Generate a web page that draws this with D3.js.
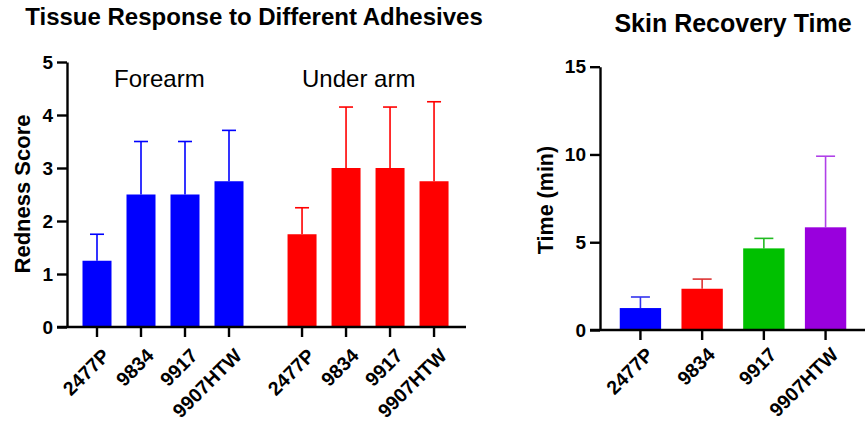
<!DOCTYPE html>
<html>
<head>
<meta charset="utf-8">
<script src="https://cdn.jsdelivr.net/npm/d3@7"></script>
<style>
  body { margin: 0; background: #fff; }
  svg { font-family: "Liberation Sans", Arial, sans-serif; }
</style>
</head>
<body>
<svg id="chart" width="865" height="423"></svg>
<script>
// data
var adhesives = ["2477P", "9834", "9917", "9907HTW"];
var sites = ["Forearm", "Under arm"];
var forearmMean = [1.25, 2.5, 2.5, 2.75];
var forearmErr = [0.5, 1.0, 1.0, 0.96];
var underarmMean = [1.75, 3.0, 3.0, 2.75];
var underarmErr = [0.5, 1.15, 1.15, 1.5];
var siteColors = ["#0000ff", "#ff0000"];
var rednessTicks = [0, 1, 2, 3, 4, 5];

var recoveryMean = [1.25, 2.35, 4.65, 5.85];
var recoveryErr = [0.63, 0.55, 0.57, 4.05];
var recoveryColors = ["#0000ff", "#ff0000", "#00c000", "#9900dd"];
var recoveryErrColors = ["#3333ee", "#dd3333", "#22bb22", "#b040e8"];
var timeTicks = [0, 5, 10, 15];

var svg = d3.select("#chart");

// draws a vertical error bar above the bar
function errorBar(g, cx, yTop, yBase, capW, color) {
    g.append("line").attr("x1", cx).attr("x2", cx).attr("y1", yBase).attr("y2", yTop)
        .attr("stroke", color).attr("stroke-width", 1.6);
    g.append("line").attr("x1", cx - capW / 2).attr("x2", cx + capW / 2).attr("y1", yTop).attr("y2", yTop)
        .attr("stroke", color).attr("stroke-width", 1.6);
}

function styleAxis(ax) {
    ax.select(".domain").attr("stroke", "#000").attr("stroke-width", 2.4);
    ax.selectAll(".tick line").attr("stroke", "#000").attr("stroke-width", 2.4);
    ax.selectAll("text").attr("fill", "#000").style("font-weight", "bold").style("font-size", "19px");
}

// x axis line, ticks and rotated labels
function xTicks(g, positions, labels, x1, x2, yOff) {
    g.append("line").attr("x1", x1).attr("x2", x2).attr("stroke", "#000").attr("stroke-width", 2.4);
    positions.forEach(function (px, i) {
        g.append("line").attr("x1", px).attr("x2", px).attr("y1", 0).attr("y2", 10)
            .attr("stroke", "#000").attr("stroke-width", 2.4);
        g.append("text").attr("transform", "translate(" + (px + 4) + "," + yOff + ") rotate(-45)")
            .attr("text-anchor", "end").attr("dy", "0.72em")
            .style("font-size", "19.5px").style("font-weight", "bold").text(labels[i]);
    });
}

// ---------- left chart ----------
var left = svg.append("g");
var y1 = d3.scaleLinear().domain([0, 5]).range([327, 62]);
// slot index -> x position, second group shifted by a gap
var groupGap = 1.66;
var slot = d3.scaleLinear().domain([0, 1]).range([97, 141]);
var barW1 = 29;

left.append("text").attr("x", 254).attr("y", 25).attr("text-anchor", "middle")
    .style("font-size", "24px").style("font-weight", "bold").text("Tissue Response to Different Adhesives");

var groups = [
    {mean: forearmMean, err: forearmErr, color: siteColors[0]},
    {mean: underarmMean, err: underarmErr, color: siteColors[1]}
];
var tickPos = [], tickLab = [];
groups.forEach(function (grp, gi) {
    grp.mean.forEach(function (v, i) {
        var cx = slot(i + gi * (adhesives.length + groupGap - 1));
        tickPos.push(cx);
        tickLab.push(adhesives[i]);
        errorBar(left, cx, y1(v + grp.err[i]), y1(v), 14, grp.color);
        left.append("rect").attr("x", cx - barW1 / 2).attr("width", barW1)
            .attr("y", y1(v)).attr("height", y1(0) - y1(v)).attr("fill", grp.color);
    });
});

// group labels
sites.forEach(function (s, gi) {
    var a = slot(gi * (adhesives.length + groupGap - 1));
    left.append("text").attr("x", a + (gi == 0 ? 17 : 0)).attr("y", 87)
        .style("font-size", "24px").text(s);
});

var yAx1 = left.append("g").attr("transform", "translate(67,0)")
    .call(d3.axisLeft(y1).tickValues(rednessTicks).tickFormat(d3.format("d"))
        .tickSize(10).tickPadding(4).tickSizeOuter(0));
styleAxis(yAx1);

xTicks(left.append("g").attr("transform", "translate(0," + y1(0) + ")"), tickPos, tickLab, 57, 466, 20);

left.append("text").attr("transform", "translate(30,194) rotate(-90)").attr("text-anchor", "middle")
    .style("font-size", "22px").style("font-weight", "bold").text("Redness Score");

// ---------- right chart ----------
var right = svg.append("g");
var y2 = d3.scaleLinear().domain([0, 15]).range([330, 66.7]);
var x2 = d3.scaleBand().domain(adhesives).range([610.5, 855.5]).paddingInner(0.33).paddingOuter(0.15);

right.append("text").attr("x", 733).attr("y", 32).attr("text-anchor", "middle")
    .style("font-size", "25px").style("font-weight", "bold").text("Skin Recovery Time");

adhesives.forEach(function (a, i) {
    var cx = x2(a) + x2.bandwidth() / 2;
    errorBar(right, cx, y2(recoveryMean[i] + recoveryErr[i]), y2(recoveryMean[i]), 19, recoveryErrColors[i]);
    right.append("rect").attr("x", x2(a)).attr("width", x2.bandwidth())
        .attr("y", y2(recoveryMean[i])).attr("height", y2(0) - y2(recoveryMean[i]))
        .attr("fill", recoveryColors[i]);
});

var yAx2 = right.append("g").attr("transform", "translate(600,0)")
    .call(d3.axisLeft(y2).tickValues(timeTicks).tickFormat(d3.format("d"))
        .tickSize(10).tickPadding(4).tickSizeOuter(0));
styleAxis(yAx2);

xTicks(right.append("g").attr("transform", "translate(0," + y2(0) + ")"),
    adhesives.map(function (a) { return x2(a) + x2.bandwidth() / 2; }), adhesives, 590, 870, 16);

right.append("text").attr("transform", "translate(553,200) rotate(-90)").attr("text-anchor", "middle")
    .style("font-size", "21.5px").style("font-weight", "bold").text("Time (min)");
</script>
</body>
</html>
